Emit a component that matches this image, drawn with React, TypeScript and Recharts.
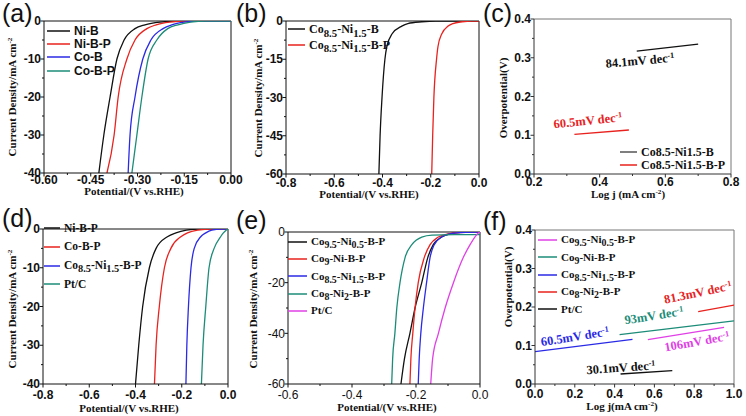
import React from 'react'
import { LineChart, Line, XAxis, YAxis, ReferenceLine, Legend } from 'recharts'

type Pt = [number, number]

// (a) polarisation curves, [V vs RHE, mA cm-2]
const aNiB: Pt[] = [[-0.424, -40], [-0.408, -30], [-0.388, -20], [-0.366, -10], [-0.343, -5], [-0.308, -2], [-0.276, -1], [-0.228, -0.3], [-0.165, 0], [0, 0]]
const aNiBP: Pt[] = [[-0.398, -40], [-0.375, -30], [-0.362, -20], [-0.334, -10], [-0.308, -5], [-0.27, -2], [-0.24, -1], [-0.196, -0.3], [-0.14, 0], [0, 0]]
const aCoB: Pt[] = [[-0.33, -40], [-0.324, -30], [-0.308, -20], [-0.283, -10], [-0.257, -5], [-0.218, -2], [-0.19, -1], [-0.15, -0.3], [-0.1, 0], [0, 0]]
const aCoBP: Pt[] = [[-0.318, -40], [-0.302, -30], [-0.286, -20], [-0.266, -10], [-0.238, -5], [-0.203, -2], [-0.17, -1], [-0.13, -0.3], [-0.08, 0], [0, 0]]
const aXTicks = [-0.6, -0.45, -0.3, -0.15, 0]
const aYTicks = [-40, -30, -20, -10, 0]

// (b)
const bCoNiB: Pt[] = [[-0.415, -60], [-0.41, -45], [-0.402, -30], [-0.39, -15], [-0.382, -10], [-0.36, -5], [-0.32, -2], [-0.295, -1], [-0.237, -0.3], [-0.18, 0], [0, 0]]
const bCoNiBP: Pt[] = [[-0.196, -60], [-0.192, -45], [-0.187, -30], [-0.176, -15], [-0.17, -10], [-0.154, -5], [-0.128, -2], [-0.108, -1], [-0.07, -0.3], [-0.03, 0], [0, 0]]
const bXTicks = [-0.8, -0.6, -0.4, -0.2, 0]
const bYTicks = [-60, -45, -30, -15, 0]

// (c) Tafel fits, [log j, overpotential V]
const cCoNiB: Pt[] = [[0.513, 0.317], [0.7, 0.335]]
const cCoNiBP: Pt[] = [[0.323, 0.102], [0.489, 0.1135]]
const cXTicks = [0.2, 0.4, 0.6, 0.8]
const cYTicks = [0, 0.1, 0.2, 0.3, 0.4]

// (d)
const dNiBP: Pt[] = [[-0.4, -40], [-0.386, -30], [-0.369, -20], [-0.34, -10], [-0.311, -5], [-0.262, -2], [-0.225, -1], [-0.18, -0.3], [-0.125, 0], [0, 0]]
const dCoBP: Pt[] = [[-0.318, -40], [-0.311, -30], [-0.297, -20], [-0.275, -10], [-0.247, -5], [-0.204, -2], [-0.175, -1], [-0.13, -0.3], [-0.07, 0], [0, 0]]
const dCoNiBP: Pt[] = [[-0.182, -40], [-0.178, -30], [-0.171, -20], [-0.16, -10], [-0.146, -5], [-0.118, -2], [-0.096, -1], [-0.07, -0.3], [-0.03, 0], [0, 0]]
const dPtC: Pt[] = [[-0.115, -40], [-0.108, -30], [-0.096, -20], [-0.082, -10], [-0.06, -5], [-0.032, -2], [-0.02, -1], [-0.008, -0.3], [0, 0]]
const dXTicks = [-0.8, -0.6, -0.4, -0.2, 0]
const dYTicks = [-40, -30, -20, -10, 0]

// (e)
const eCo95: Pt[] = [[-0.247, -60], [-0.236, -50], [-0.219, -40], [-0.203, -30], [-0.182, -20], [-0.163, -10], [-0.146, -5], [-0.12, -2], [-0.095, -0.8], [-0.06, -0.1], [0, 0]]
const eCo9: Pt[] = [[-0.219, -60], [-0.216, -50], [-0.21, -40], [-0.203, -30], [-0.193, -20], [-0.174, -10], [-0.156, -5], [-0.13, -2], [-0.1, -0.7], [-0.05, -0.1], [0, 0]]
const eCo85: Pt[] = [[-0.193, -60], [-0.19, -50], [-0.185, -40], [-0.177, -30], [-0.167, -20], [-0.156, -10], [-0.143, -5], [-0.12, -2], [-0.095, -0.7], [-0.045, -0.1], [0, 0]]
const eCo8: Pt[] = [[-0.276, -60], [-0.273, -50], [-0.266, -40], [-0.26, -30], [-0.25, -20], [-0.234, -10], [-0.213, -5], [-0.182, -2], [-0.15, -1.2], [-0.08, -1], [0, -1]]
const ePtC: Pt[] = [[-0.154, -60], [-0.148, -50], [-0.13, -40], [-0.109, -30], [-0.083, -20], [-0.052, -10], [-0.031, -5], [-0.016, -2], [-0.006, -0.5], [0, 0]]
const eXTicks = [-0.6, -0.4, -0.2, 0]
const eYTicks = [-60, -40, -20, 0]

// (f)
const fCo95: Pt[] = [[0.567, 0.115], [0.95, 0.147]]
const fCo9: Pt[] = [[0.425, 0.128], [1.0, 0.164]]
const fCo85: Pt[] = [[0.0, 0.084], [0.49, 0.116]]
const fCo8: Pt[] = [[0.82, 0.188], [1.0, 0.205]]
const fPtC: Pt[] = [[0.43, 0.026], [0.69, 0.035]]
const fXTicks = [0, 0.2, 0.4, 0.6, 0.8, 1.0]
const fYTicks = [0, 0.1, 0.2, 0.3, 0.4]

const serif = '"Liberation Serif", "Times New Roman", serif'
const sans = '"Liberation Sans", Arial, sans-serif'

const BLACK = '#111'
const RED = '#e8221e'
const BLUE = '#2a2ae6'
const TEAL = '#1c8c78'
const PINK = '#e040e6'

type Series = { name: string; color: string; data: Pt[] }

const withMinors = (t: number[]) => {
  const out = [...t]
  for (let i = 0; i < t.length - 1; i++) out.push((t[i] + t[i + 1]) / 2)
  return out.sort((p, q) => p - q)
}
const isMajor = (t: number[], v: number) => t.some((m) => Math.abs(m - v) < 1e-9)

function chem(name: string, sub: boolean) {
  if (!sub) return name
  return name.split(/(\d+(?:\.\d+)?)/).map((part, i) =>
    i % 2 === 1 ? (
      <span key={i} style={{ fontSize: '0.9em', position: 'relative', top: '0.3em' }}>{part}</span>
    ) : (
      <React.Fragment key={i}>{part}</React.Fragment>
    )
  )
}

const Sup = ({ children }: { children: React.ReactNode }) => (
  <span style={{ fontSize: '0.65em', position: 'relative', top: '-0.55em' }}>{children}</span>
)

type LegendCfg = { x: number; y: number; gap: number; len: number; size: number; font: string; sub: boolean; swatch?: string[] }

type PanelProps = {
  box: [number, number, number, number]
  plot: [number, number, number, number]
  xDomain: [number, number]
  yDomain: [number, number]
  xTicks: number[]
  yTicks: number[]
  xFmt: (v: number) => string
  yFmt: (v: number) => string
  series: Series[]
  curve: 'monotone' | 'linear'
  weight: string
  xLabelY: number
  axis: string
  frame: string
  legend: LegendCfg
}

function Panel(p: PanelProps) {
  const [bl, bt, bw, bh] = p.box
  const [pl, pt, pr, pb] = p.plot
  const tickFont = { fontFamily: sans, fontSize: 12, fontWeight: p.weight, fill: '#111' }
  const lg = p.legend
  return (
    <div style={{ position: 'absolute', left: bl, top: bt }}>
      <LineChart width={bw} height={bh} margin={{ top: pt - bt, right: bl + bw - pr, bottom: 0, left: 0 }}>
        <XAxis
          type="number"
          dataKey="x"
          domain={p.xDomain}
          allowDataOverflow
          ticks={withMinors(p.xTicks)}
          interval={0}
          height={bt + bh - pb}
          tickSize={0}
          tickMargin={0}
          tickLine={false}
          stroke={p.axis}
          tick={(t: any) => {
            const major = isMajor(p.xTicks, t.payload.value)
            return (
              <g>
                <line x1={t.x} x2={t.x} y1={t.y} y2={t.y + (major ? 3.5 : 2)} stroke={p.axis} />
                {major && (
                  <text x={t.x} y={t.y + p.xLabelY} textAnchor="middle" {...tickFont}>
                    {p.xFmt(t.payload.value)}
                  </text>
                )}
              </g>
            )
          }}
        />
        <YAxis
          type="number"
          dataKey="y"
          domain={p.yDomain}
          allowDataOverflow
          ticks={withMinors(p.yTicks)}
          interval={0}
          width={pl - bl}
          tickSize={0}
          tickMargin={0}
          tickLine={false}
          stroke={p.axis}
          tick={(t: any) => {
            const major = isMajor(p.yTicks, t.payload.value)
            return (
              <g>
                <line x1={t.x - (major ? 3.5 : 2)} x2={t.x} y1={t.y} y2={t.y} stroke={p.axis} />
                {major && (
                  <text x={t.x - 3} y={t.y} dy="0.35em" textAnchor="end" {...tickFont}>
                    {p.yFmt(t.payload.value)}
                  </text>
                )}
              </g>
            )
          }}
        />
        <ReferenceLine y={p.yDomain[1]} stroke={p.frame} ifOverflow="visible" />
        <ReferenceLine x={p.xDomain[1]} stroke={p.frame} ifOverflow="visible" />
        {p.series.map((s) => (
          <Line
            key={s.name}
            name={s.name}
            data={s.data.map(([x, y]) => ({ x, y }))}
            dataKey="y"
            type={p.curve}
            stroke={s.color}
            strokeWidth={1.3}
            dot={false}
            isAnimationActive={false}
          />
        ))}
        <Legend
          layout="vertical"
          align="center"
          verticalAlign="middle"
          wrapperStyle={{ left: lg.x - bl, top: lg.y - bt - lg.gap / 2, width: 200 }}
          content={() => (
            <div>
              {p.series.map((s, i) => (
                <div key={s.name} style={{ display: 'flex', alignItems: 'center', height: lg.gap, whiteSpace: 'nowrap' }}>
                  <svg width={lg.len + 2} height={4} style={{ marginRight: 2 }}>
                    <line x1={0} x2={lg.len} y1={2} y2={2} stroke={lg.swatch ? lg.swatch[i] : s.color} strokeWidth={1.5} />
                  </svg>
                  <span style={{ font: `bold ${lg.size}px ${lg.font}`, color: '#111', lineHeight: 1 }}>{chem(s.name, lg.sub)}</span>
                </div>
              ))}
            </div>
          )}
        />
      </LineChart>
    </div>
  )
}

const YTitle = ({ x, y, children }: { x: number; y: number; children: React.ReactNode }) => (
  <div
    style={{
      position: 'absolute', left: x, top: y, transform: 'translate(-50%, -50%) rotate(-90deg)',
      font: `bold 11px ${serif}`, color: '#111', whiteSpace: 'nowrap', lineHeight: 1,
    }}
  >
    {children}
  </div>
)

const XTitle = ({ x, y, children }: { x: number; y: number; children: React.ReactNode }) => (
  <div
    style={{
      position: 'absolute', left: x, top: y, transform: 'translate(-50%, -50%)',
      font: `bold 11px ${serif}`, color: '#111', whiteSpace: 'nowrap', lineHeight: 1,
    }}
  >
    {children}
  </div>
)

const Note = ({ x, y, angle, color, text }: { x: number; y: number; angle: number; color: string; text: string }) => (
  <div
    style={{
      position: 'absolute', left: x, top: y, transform: `translate(-50%, -50%) rotate(${angle}deg)`,
      font: `bold 12.5px ${serif}`, color, whiteSpace: 'nowrap', lineHeight: 1,
    }}
  >
    {text}
    <Sup>-1</Sup>
  </div>
)

const Tag = ({ x, y, t }: { x: number; y: number; t: string }) => (
  <div style={{ position: 'absolute', left: x, top: y, font: `25px ${sans}`, color: '#111', lineHeight: 1 }}>{t}</div>
)

const cd = (
  <>
    Current Density/mA cm<Sup>-2</Sup>
  </>
)
const pot = 'Potential/(V vs.RHE)'

const f2 = (v: number) => v.toFixed(2)
const f1 = (v: number) => v.toFixed(1)
const f0 = (v: number) => String(Math.round(v))

export default function App() {
  return (
    <div style={{ position: 'fixed', left: 0, top: 0, width: 746, height: 416, background: '#fff', overflow: 'hidden' }}>
      <Panel
        box={[0, 0, 246, 205]}
        plot={[44, 21, 231, 173]}
        xDomain={[-0.6, 0]}
        yDomain={[-40, 0]}
        xTicks={aXTicks}
        yTicks={aYTicks}
        xFmt={f2}
        yFmt={f0}
        series={[
          { name: 'Ni-B', color: BLACK, data: aNiB },
          { name: 'Ni-B-P', color: RED, data: aNiBP },
          { name: 'Co-B', color: BLUE, data: aCoB },
          { name: 'Co-B-P', color: TEAL, data: aCoBP },
        ]}
        curve="monotone"
        weight="bold"
        xLabelY={10.5}
        axis="#111"
        frame="#111"
        legend={{ x: 47, y: 30.7, gap: 13.4, len: 23, size: 12, font: sans, sub: false }}
      />
      <Panel
        box={[246, 0, 250, 205]}
        plot={[286, 21, 479, 174]}
        xDomain={[-0.8, 0]}
        yDomain={[-60, 0]}
        xTicks={bXTicks}
        yTicks={bYTicks}
        xFmt={f1}
        yFmt={f0}
        series={[
          { name: 'Co8.5-Ni1.5-B', color: BLACK, data: bCoNiB },
          { name: 'Co8.5-Ni1.5-B-P', color: RED, data: bCoNiBP },
        ]}
        curve="monotone"
        weight="bold"
        xLabelY={12.5}
        axis="#111"
        frame="#111"
        legend={{ x: 288, y: 29.3, gap: 15.7, len: 17, size: 12, font: serif, sub: true }}
      />
      <Panel
        box={[496, 0, 250, 205]}
        plot={[534, 19, 731, 174]}
        xDomain={[0.2, 0.8]}
        yDomain={[0, 0.4]}
        xTicks={cXTicks}
        yTicks={cYTicks}
        xFmt={f1}
        yFmt={f1}
        series={[
          { name: 'Co8.5-Ni1.5-B', color: BLACK, data: cCoNiB },
          { name: 'Co8.5-Ni1.5-B-P', color: RED, data: cCoNiBP },
        ]}
        curve="linear"
        weight="bold"
        xLabelY={11.5}
        axis="#333"
        frame="#777"
        legend={{ x: 620, y: 152.3, gap: 12.7, len: 17, size: 12, font: serif, sub: false, swatch: ['#555', RED] }}
      />
      <Panel
        box={[0, 205, 246, 211]}
        plot={[43, 229, 228, 384]}
        xDomain={[-0.8, 0]}
        yDomain={[-40, 0]}
        xTicks={dXTicks}
        yTicks={dYTicks}
        xFmt={f1}
        yFmt={f0}
        series={[
          { name: 'Ni-B-P', color: BLACK, data: dNiBP },
          { name: 'Co-B-P', color: RED, data: dCoBP },
          { name: 'Co8.5-Ni1.5-B-P', color: BLUE, data: dCoNiBP },
          { name: 'Pt/C', color: TEAL, data: dPtC },
        ]}
        curve="monotone"
        weight="bold"
        xLabelY={15}
        axis="#111"
        frame="#111"
        legend={{ x: 44, y: 228.3, gap: 18.7, len: 16, size: 11.5, font: serif, sub: true }}
      />
      <Panel
        box={[246, 205, 250, 211]}
        plot={[288, 232, 480, 384]}
        xDomain={[-0.6, 0]}
        yDomain={[-60, 0]}
        xTicks={eXTicks}
        yTicks={eYTicks}
        xFmt={f1}
        yFmt={f0}
        series={[
          { name: 'Co9.5-Ni0.5-B-P', color: BLACK, data: eCo95 },
          { name: 'Co9-Ni-B-P', color: RED, data: eCo9 },
          { name: 'Co8.5-Ni1.5-B-P', color: BLUE, data: eCo85 },
          { name: 'Co8-Ni2-B-P', color: TEAL, data: eCo8 },
          { name: 'Pt/C', color: PINK, data: ePtC },
        ]}
        curve="monotone"
        weight="normal"
        xLabelY={15}
        axis="#111"
        frame="#111"
        legend={{ x: 288, y: 241.7, gap: 17.3, len: 19, size: 11, font: serif, sub: true }}
      />
      <Panel
        box={[496, 205, 250, 211]}
        plot={[535, 230, 734, 384]}
        xDomain={[0, 1]}
        yDomain={[0, 0.4]}
        xTicks={fXTicks}
        yTicks={fYTicks}
        xFmt={f1}
        yFmt={f1}
        series={[
          { name: 'Co9.5-Ni0.5-B-P', color: PINK, data: fCo95 },
          { name: 'Co9-Ni-B-P', color: TEAL, data: fCo9 },
          { name: 'Co8.5-Ni1.5-B-P', color: BLUE, data: fCo85 },
          { name: 'Co8-Ni2-B-P', color: RED, data: fCo8 },
          { name: 'Pt/C', color: BLACK, data: fPtC },
        ]}
        curve="linear"
        weight="bold"
        xLabelY={14}
        axis="#333"
        frame="#777"
        legend={{ x: 538, y: 240, gap: 17.3, len: 19, size: 11, font: serif, sub: true }}
      />

      <YTitle x={13} y={97}>{cd}</YTitle>
      <YTitle x={259} y={98}>{cd}</YTitle>
      <YTitle x={503} y={98}>Overpotential(V)</YTitle>
      <YTitle x={13} y={309}>{cd}</YTitle>
      <YTitle x={254} y={309}>{cd}</YTitle>
      <YTitle x={508} y={287}>Overpotential(V)</YTitle>

      <XTitle x={134} y={191}>{pot}</XTitle>
      <XTitle x={369} y={194}>{pot}</XTitle>
      <XTitle x={628} y={195}>
        Log j (mA cm<Sup>-2</Sup>)
      </XTitle>
      <XTitle x={129} y={408}>{pot}</XTitle>
      <XTitle x={387} y={407}>{pot}</XTitle>
      <XTitle x={622} y={407}>
        Log j(mA cm<Sup>-2</Sup>)
      </XTitle>

      <Note x={640} y={61} angle={-5} color="#111" text="84.1mV dec" />
      <Note x={588} y={121} angle={-6} color={RED} text="60.5mV dec" />
      <Note x={698} y={293} angle={-12} color={RED} text="81.3mV dec" />
      <Note x={654} y={316} angle={-9} color={TEAL} text="93mV dec" />
      <Note x={575} y={337} angle={-9} color={BLUE} text="60.5mV dec" />
      <Note x={697} y={342} angle={-10} color={PINK} text="106mV dec" />
      <Note x={621} y={368} angle={-4} color="#111" text="30.1mV dec" />

      <Tag x={2} y={1} t="(a)" />
      <Tag x={236} y={1} t="(b)" />
      <Tag x={483} y={1} t="(c)" />
      <Tag x={2} y={206} t="(d)" />
      <Tag x={236} y={208} t="(e)" />
      <Tag x={483} y={209} t="(f)" />
    </div>
  )
}
